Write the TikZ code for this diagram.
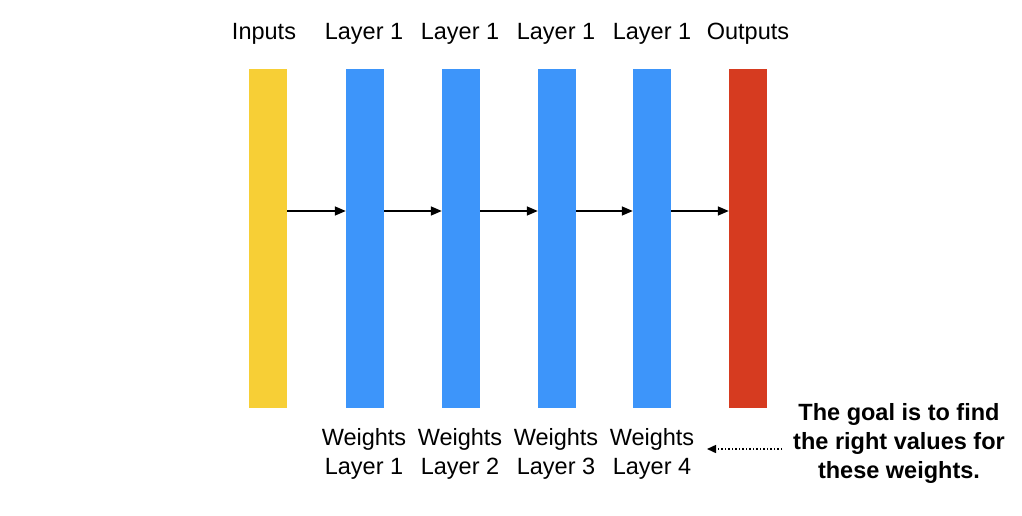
\documentclass[tikz,border=0pt]{standalone}
\usepackage{fontspec}
\setmainfont{Liberation Sans}
\usetikzlibrary{arrows.meta}
\definecolor{inyellow}{HTML}{F7CF36}
\definecolor{layblue}{HTML}{3D95FA}
\definecolor{outred}{HTML}{D63B20}
\begin{document}
\begin{tikzpicture}[x=1pt,y=-1pt,
  bar/.style={rectangle,draw=none,minimum width=38pt,minimum height=339pt,inner sep=0pt},
  lbl/.style={anchor=base,inner sep=0pt,font=\fontsize{23.5}{28}\selectfont},
  wlbl/.style={anchor=base,inner sep=0pt,align=center,font=\fontsize{23.5}{28.5}\selectfont},
  goaltxt/.style={inner sep=0pt,align=center,font=\fontsize{23.5}{29}\selectfont\bfseries},
  flow/.style={line width=1.5pt,-{Triangle[length=11pt,width=9pt]}},
  dotarrow/.style={line width=1.5pt,dotted,-{Triangle[length=9pt,width=8pt]}}]
\useasboundingbox (0,0) rectangle (1022,516);
\node[bar,fill=inyellow] (b0) at (268,238.5) {};
\node[bar,fill=layblue] (b1) at (365,238.5) {};
\node[bar,fill=layblue] (b2) at (461,238.5) {};
\node[bar,fill=layblue] (b3) at (557,238.5) {};
\node[bar,fill=layblue] (b4) at (652,238.5) {};
\node[bar,fill=outred] (b5) at (748,238.5) {};
\node[lbl] (t0) at (264,40) {Inputs};
\node[lbl] (t1) at (364,40) {Layer 1};
\node[lbl] (t2) at (460,40) {Layer 1};
\node[lbl] (t3) at (556,40) {Layer 1};
\node[lbl] (t4) at (652,40) {Layer 1};
\node[lbl] (t5) at (748,40) {Outputs};
\foreach \a/\b in {b0/b1,b1/b2,b2/b3,b3/b4,b4/b5}
  \draw[flow] ([yshift=27.5pt]\a.east) -- ([yshift=27.5pt]\b.west);
\node[wlbl] (w1) at (364,474) {Weights\\Layer 1};
\node[wlbl] (w2) at (460,474) {Weights\\Layer 2};
\node[wlbl] (w3) at (556,474) {Weights\\Layer 3};
\node[wlbl] (w4) at (652,474) {Weights\\Layer 4};
\node[goaltxt] (goal) at (899,443) {The goal is to find\\the right values for\\these weights.};
\coordinate (ds) at (782,449);
\coordinate (de) at (707,449);
\draw[dotarrow] (ds) -- (de);
\end{tikzpicture}
\end{document}
